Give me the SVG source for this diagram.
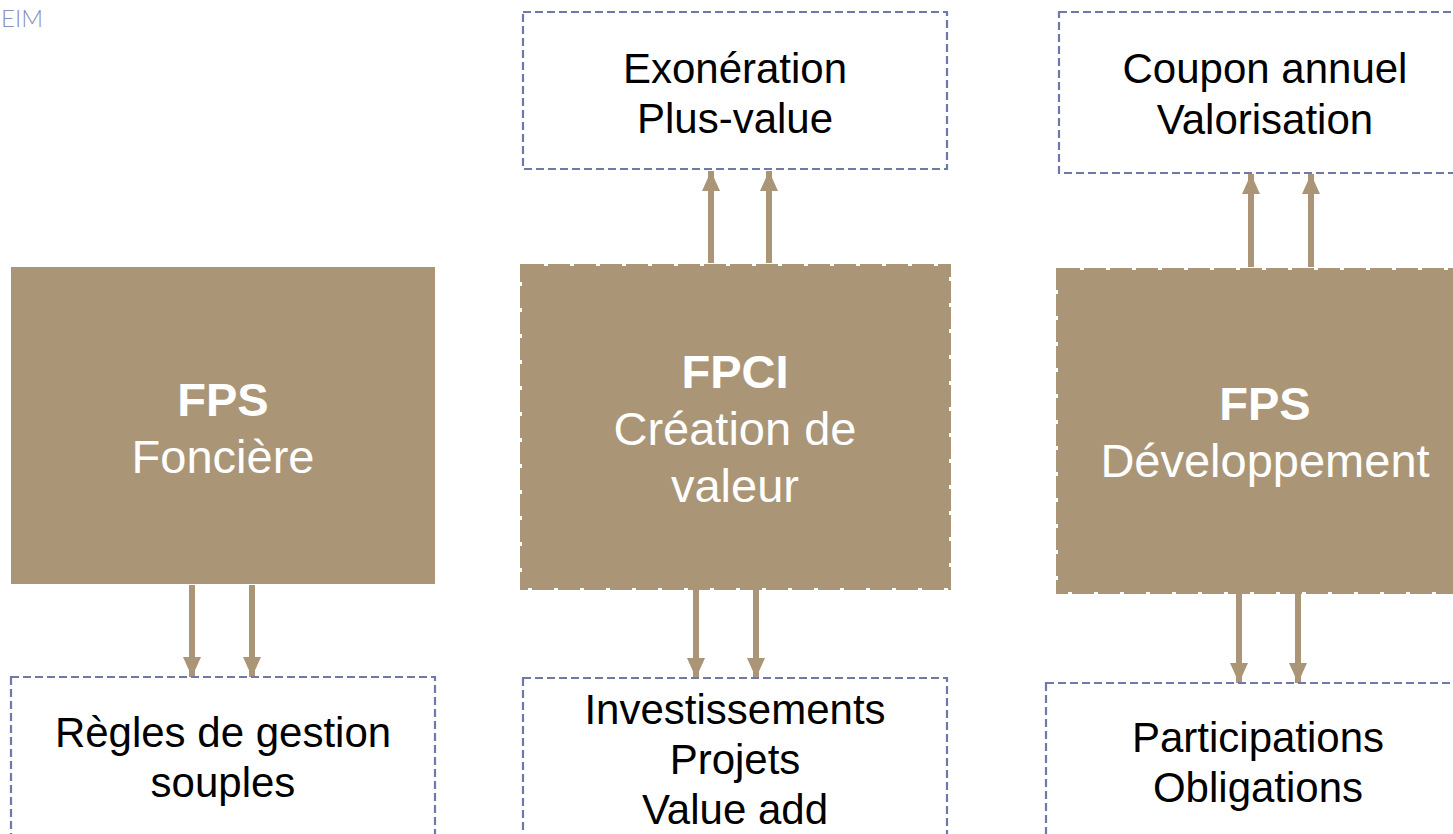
<svg xmlns="http://www.w3.org/2000/svg" width="1453" height="834" viewBox="0 0 1453 834">
<defs>
<style>
.main{fill:#AA9676;}
.dmain{fill:#AA9676;stroke:#AA9676;stroke-width:4;stroke-dasharray:22 4;}
.out{fill:#FFFFFF;stroke:#7078A8;stroke-width:2.2;stroke-dasharray:8 4;}
.t{font-family:"Liberation Sans",Arial,sans-serif;text-anchor:middle;fill:#000000;font-size:42px;}
.w{font-family:"Liberation Sans",Arial,sans-serif;text-anchor:middle;fill:#FFFFFF;font-size:47px;}
.b{font-weight:bold;}
.arr{stroke:#AA9676;stroke-width:6;fill:none;marker-end:url(#ah);}
</style>
<marker id="ah" markerUnits="userSpaceOnUse" markerWidth="20" markerHeight="20" viewBox="0 0 20 20" refX="20" refY="10" orient="auto">
<path d="M0,1 L20,10 L0,19 Z" fill="#AA9676"/>
</marker>
</defs>
<rect width="1453" height="834" fill="#FFFFFF"/>
<text x="1" y="27" font-family="Lato, sans-serif" font-weight="300" font-size="24" fill="#8A90B8">EIM</text>

<g id="connectors">
<line class="arr" x1="192" y1="585" x2="192" y2="677"/>
<line class="arr" x1="252" y1="585" x2="252" y2="677"/>
<line class="arr" x1="711" y1="263" x2="711" y2="171"/>
<line class="arr" x1="769" y1="263" x2="769" y2="171"/>
<line class="arr" x1="696" y1="590" x2="696" y2="678"/>
<line class="arr" x1="756" y1="590" x2="756" y2="678"/>
<line class="arr" x1="1251" y1="267" x2="1251" y2="174"/>
<line class="arr" x1="1311" y1="267" x2="1311" y2="174"/>
<line class="arr" x1="1239" y1="594" x2="1239" y2="683"/>
<line class="arr" x1="1298" y1="594" x2="1298" y2="683"/>
</g>

<g id="fps-fonciere">
<rect class="main" x="11" y="267" width="424" height="317"/>
<text class="w b" x="223" y="416">FPS</text>
<text class="w" x="223" y="473">Foncière</text>
</g>

<g id="regles">
<rect class="out" x="11" y="677" width="424" height="180"/>
<text class="t" x="223" y="747">Règles de gestion</text>
<text class="t" x="223" y="797">souples</text>
</g>

<g id="exoneration">
<rect class="out" x="523" y="12" width="424" height="157"/>
<text class="t" x="735" y="83">Exonération</text>
<text class="t" x="735" y="133">Plus-value</text>
</g>

<g id="fpci">
<rect class="dmain" x="522" y="266" width="427" height="322"/>
<text class="w b" x="735" y="388">FPCI</text>
<text class="w" x="735" y="445">Création de</text>
<text class="w" x="735" y="502">valeur</text>
</g>

<g id="investissements">
<rect class="out" x="523" y="678" width="424" height="180"/>
<text class="t" x="735" y="724">Investissements</text>
<text class="t" x="735" y="774">Projets</text>
<text class="t" x="735" y="824">Value add</text>
</g>

<g id="coupon">
<rect class="out" x="1059" y="12" width="412" height="161"/>
<text class="t" x="1265" y="83">Coupon annuel</text>
<text class="t" x="1265" y="134">Valorisation</text>
</g>

<g id="fps-developpement">
<rect class="dmain" x="1058" y="270" width="416" height="322"/>
<text class="w b" x="1265" y="420">FPS</text>
<text class="w" x="1265" y="477">Développement</text>
</g>

<g id="participations">
<rect class="out" x="1046" y="683" width="424" height="180"/>
<text class="t" x="1258" y="752">Participations</text>
<text class="t" x="1258" y="802">Obligations</text>
</g>
</svg>
